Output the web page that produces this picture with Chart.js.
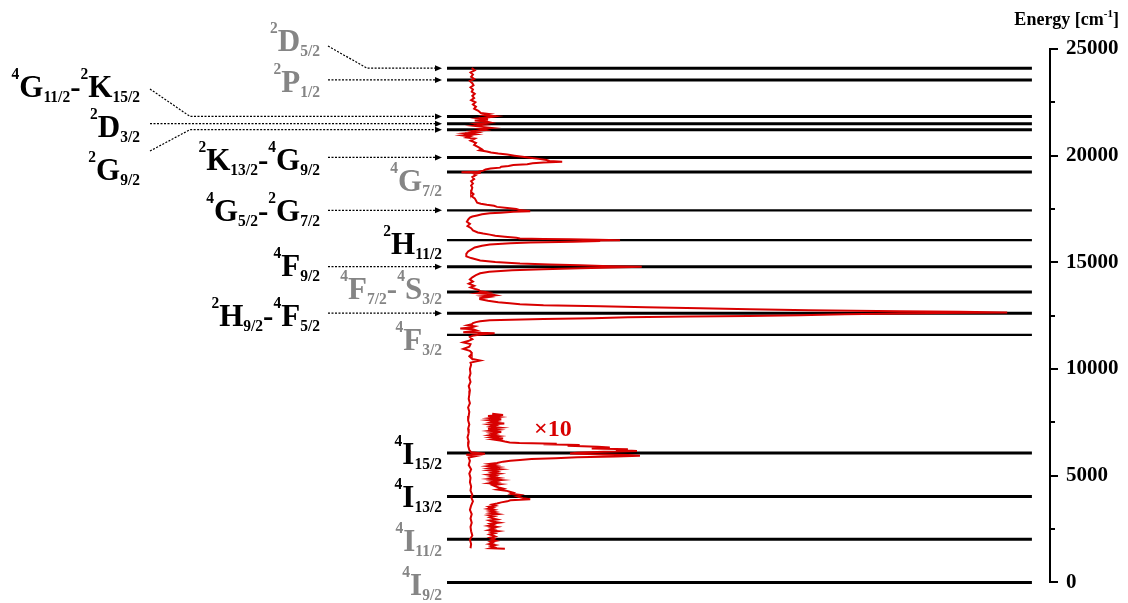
<!DOCTYPE html>
<html>
<head>
<meta charset="utf-8">
<script src="https://cdn.jsdelivr.net/npm/chart.js@4/dist/chart.umd.min.js"></script>
<style>
  html, body { margin: 0; padding: 0; background: #fff; }
  #wrap { width: 1128px; height: 603px; position: relative; }
</style>
</head>
<body>
<div id="wrap"><canvas id="levels"></canvas></div>
<script>
// energy levels (cm-1)
const levelE = [24100, 23550, 21840, 21500, 21220, 19920, 19240, 17440, 16040,
  14800, 13610, 12620, 11600, 6060, 4030, 2020, 0];
const levelThin = [false, false, false, false, false, false, false, true, true,
  false, false, false, true, false, false, false, false];
const levelEnd = 97; // intensity units, where the level lines stop

// excitation spectrum (energy, intensity in arb. units)
const specE = [24110,24000,23900,23800,23700,23600,23500,23400,23300,23200,
  23100,23000,22900,22800,22700,22600,22500,22400,22300,22200,
  22100,22000,21950,21900,21850,21800,21750,21700,21650,21600,
  21550,21500,21450,21400,21350,21300,21250,21200,21150,21100,
  21050,21000,20950,20900,20850,20800,20700,20600,20500,20400,
  20300,20250,20200,20150,20100,20050,20000,19950,19900,19850,
  19800,19750,19720,19680,19640,19600,19560,19520,19480,19440,
  19400,19350,19300,19250,19220,19200,19150,19100,19000,18900,
  18800,18700,18600,18500,18400,18300,18200,18100,18000,17900,
  17800,17750,17700,17650,17600,17550,17500,17450,17400,17370,
  17330,17300,17250,17200,17150,17100,17000,16900,16800,16700,
  16600,16500,16400,16350,16300,16250,16200,16150,16120,16100,
  16080,16060,16040,16020,16000,15970,15935,15900,15840,15780,
  15700,15600,15510,15400,15280,15200,15090,15020,14950,14900,
  14860,14820,14790,14770,14740,14720,14680,14630,14560,14490,
  14400,14300,14200,14100,14000,13900,13830,13750,13700,13650,
  13600,13550,13500,13460,13420,13380,13320,13270,13200,13130,
  13080,13040,12990,12940,12900,12850,12800,12760,12710,12680,
  12650,12630,12600,12570,12520,12490,12460,12430,12380,12340,
  12290,12240,12200,12150,12100,12050,12000,11950,11900,11870,
  11800,11730,11680,11620,11560,11500,11400,11310,11250,11170,
  11050,10940,10850,10800,10700,10600,10470,10400,10300,10200,
  10000,9800,9600,9400,9200,9000,8800,8600,8400,8200,
  8000,7800,7600,7400,7200,7000,6800,6600,6400,6200,
  6100,6030,5980,5930,5850,5700,5500,5300,5100,4900,
  4700,4500,4300,4100,4000,3800,3600,3400,3200,3000,
  2800,2600,2400,2200,2000,1800,1600];
const specI = [4.1,4.6,3.9,4.3,4.0,4.5,3.8,4.2,4.4,3.9,
  4.3,4.1,4.6,4.2,4.5,4.0,4.7,4.3,4.8,4.5,
  5.2,5.6,7.0,6.2,8.1,7.0,5.3,6.8,4.6,6.5,
  7.2,5.0,6.1,4.4,5.8,7.4,5.5,6.3,4.2,5.0,
  3.0,4.5,2.6,3.8,3.3,4.6,3.9,4.8,4.5,5.2,
  5.8,5.4,6.6,7.3,8.5,10.0,11.2,12.5,13.8,15.2,
  16.5,17.0,19.1,16.0,14.2,13.3,11.0,10.2,9.0,8.8,
  7.2,6.4,6.0,5.2,2.4,5.6,4.5,4.8,4.2,4.5,
  4.0,4.3,4.0,4.2,4.1,4.0,4.4,4.1,4.6,4.8,
  5.0,5.6,6.6,7.8,8.3,10.0,11.5,12.1,13.8,11.0,
  8.9,7.1,5.8,5.0,4.2,3.8,3.5,3.3,3.8,3.4,
  4.0,4.3,5.1,6.0,7.1,8.0,9.6,11.5,12.1,16.0,
  20.4,25.0,28.7,24.0,25.4,21.0,13.8,10.5,7.1,5.8,
  4.6,4.0,3.5,3.2,3.2,4.0,5.5,8.0,12.1,17.0,
  22.1,27.0,32.3,29.0,24.0,22.1,16.0,10.8,7.0,5.5,
  4.8,4.2,3.8,4.3,3.6,4.5,3.9,4.7,5.3,5.5,
  6.6,5.2,7.3,8.0,6.1,7.0,5.5,5.5,6.8,8.5,
  10.4,12.1,16.0,25.4,33.0,42.0,50.2,60.0,75.1,85.0,
  92.9,82.0,75.0,66.0,58.5,50.0,40.0,30.0,24.2,16.0,
  7.1,5.5,4.8,4.3,4.1,3.4,4.6,4.0,2.2,4.3,
  5.0,2.7,7.9,5.5,4.2,3.8,4.2,3.5,2.7,3.9,
  3.7,2.7,3.8,4.0,4.1,3.7,4.2,5.5,3.9,4.0,
  3.8,3.9,3.7,3.9,3.6,3.8,3.7,3.6,3.8,3.5,
  3.7,3.6,3.5,3.7,3.5,3.6,3.4,3.6,3.5,3.7,
  4.0,6.3,3.2,5.0,3.6,3.8,3.6,4.0,3.7,3.9,
  3.8,4.0,3.9,4.2,4.0,4.3,4.0,3.8,4.1,3.9,
  4.1,3.9,4.0,4.2,3.8,4.0,3.9];

// low-energy part magnified x10
const x10E = [7900,7850,7800,7750,7700,7650,7600,7550,7500,7450,
  7400,7350,7300,7250,7200,7150,7100,7050,7000,6950,
  6900,6850,6800,6750,6700,6650,6600,6560,6530,6500,
  6470,6440,6400,6360,6320,6280,6240,6200,6160,6120,
  6080,6040,6000,5970,5935,5900,5860,5820,5780,5740,
  5700,5660,5600,5550,5500,5450,5400,5350,5300,5250,
  5200,5150,5100,5050,5000,4950,4900,4850,4800,4750,
  4700,4650,4600,4550,4500,4450,4400,4350,4300,4250,
  4200,4150,4100,4050,4000,3950,3900,3850,3800,3750,
  3700,3650,3600,3550,3500,3450,3400,3350,3300,3250,
  3200,3150,3100,3050,3000,2950,2900,2850,2800,2750,
  2700,2650,2600,2550,2500,2450,2400,2350,2300,2250,
  2200,2150,2100,2050,2000,1950,1900,1850,1800,1750,
  1700,1650,1600,1580];
const x10I = [7.5,9.3,6.8,8.6,7.2,9.0,6.9,8.2,7.4,9.5,
  7.0,8.0,7.3,8.8,6.8,8.4,7.1,9.0,7.3,8.0,
  7.0,8.6,7.4,9.3,7.6,8.8,9.6,10.4,12.0,18.2,
  16.0,22.0,20.0,25.0,27.0,24.0,30.0,28.0,31.5,26.0,
  21.6,20.4,26.0,30.0,32.0,28.0,21.6,18.0,14.0,12.1,
  10.5,9.3,8.3,7.0,8.0,6.8,8.4,7.1,8.8,7.0,
  8.2,7.5,8.6,6.9,8.0,7.3,8.5,7.1,9.0,7.4,
  8.2,7.0,8.8,7.6,8.0,8.6,9.3,8.4,9.8,10.4,
  11.0,10.6,12.1,11.5,12.0,12.6,13.8,10.5,10.0,9.0,
  8.3,7.5,8.0,7.0,7.6,6.8,7.8,7.1,8.0,7.2,
  8.4,7.0,7.8,7.1,7.6,8.3,7.0,7.5,8.6,7.2,
  7.7,6.9,8.2,7.3,7.8,7.0,8.5,7.4,7.9,7.1,
  7.6,8.0,7.2,7.8,7.4,8.1,7.2,7.6,7.0,8.0,
  7.3,7.8,7.2,9.6];

const yTicks = [0, 5000, 10000, 15000, 20000, 25000];
const yMinorTicks = [2500, 7500, 12500, 17500, 22500];

// term symbols: ^ = superscript, _ = subscript
const termText = ['^2D_5/2', '^2P_1/2', '^4G_11/2-^2K_15/2', '^2D_3/2', '^2G_9/2',
  '^2K_13/2-^4G_9/2', '^4G_7/2', '^4G_5/2-^2G_7/2', '^2H_11/2', '^4F_9/2',
  '^4F_7/2-^4S_3/2', '^2H_9/2-^4F_5/2', '^4F_3/2', '^4I_15/2', '^4I_13/2',
  '^4I_11/2', '^4I_9/2'];
const termGray = [true, true, false, false, false, false, true, false, false, false,
  true, false, true, false, false, true, true];
// label layout (right edge px, baseline px)
const termPos = [[320, 51], [320, 92], [140, 97], [140, 137], [140, 180],
  [320, 170], [442, 191], [320, 221], [442, 254], [320, 276],
  [442, 299], [320, 326], [442, 350], [442, 464], [442, 507],
  [442, 551], [442, 595]];
// dotted arrows: [start x, start y (null = level), bend x (null = straight), level index]
const arrows = [[328, 46, 367, 0], [328, null, null, 1], [150, 89, 190, 2],
  [150, null, null, 3], [150, 151, 190, 4], [328, null, null, 5],
  [328, null, null, 7], [328, null, null, 9], [328, null, null, 11]];

const SERIF = "'Liberation Serif', 'Times New Roman', serif";
const GRAY = '#858585';
const RED = '#d80000';

function parseTerm(s) {
  const out = [];
  let i = 0;
  while (i < s.length) {
    const c = s[i];
    if (c === '^' || c === '_') {
      let j = i + 1;
      while (j < s.length && /[0-9\/]/.test(s[j])) j++;
      out.push({ kind: c === '^' ? 'sup' : 'sub', t: s.slice(i + 1, j) });
      i = j;
    } else {
      let j = i;
      while (j < s.length && s[j] !== '^' && s[j] !== '_') j++;
      out.push({ kind: 'main', t: s.slice(i, j) });
      i = j;
    }
  }
  return out;
}

function drawTerm(ctx, text, right, base, color) {
  const parts = parseTerm(text);
  const fonts = { main: 'bold 32px ' + SERIF, sup: 'bold 16px ' + SERIF, sub: 'bold 16px ' + SERIF };
  const dy = { main: 0, sup: -18, sub: 5 };
  const sx = 0.97;
  let total = 0;
  parts.forEach(p => { ctx.font = fonts[p.kind]; p.w = ctx.measureText(p.t).width * sx; total += p.w; });
  let x = right - total;
  ctx.fillStyle = color;
  ctx.textAlign = 'left';
  ctx.textBaseline = 'alphabetic';
  parts.forEach(p => {
    ctx.font = fonts[p.kind];
    ctx.save();
    ctx.translate(x, base + dy[p.kind]);
    ctx.scale(sx, 1);
    ctx.fillText(p.t, 0, 0);
    ctx.restore();
    x += p.w;
  });
}

const annotations = {
  id: 'annotations',
  afterDraw(chart) {
    const ctx = chart.ctx;
    const ys = chart.scales.y;
    ctx.save();

    // dotted arrows to the levels
    const tipX = 442;
    arrows.forEach(([x0, y0, bx, li]) => {
      const yl = ys.getPixelForValue(levelE[li]);
      ctx.strokeStyle = '#000';
      ctx.lineWidth = 1.2;
      ctx.setLineDash([2, 1.5]);
      ctx.beginPath();
      if (bx === null) {
        ctx.moveTo(x0, yl);
      } else {
        ctx.moveTo(x0, y0);
        ctx.lineTo(bx, yl);
      }
      ctx.lineTo(tipX - 6, yl);
      ctx.stroke();
      ctx.setLineDash([]);
      ctx.fillStyle = '#000';
      ctx.beginPath();
      ctx.moveTo(tipX, yl);
      ctx.lineTo(tipX - 7, yl - 3);
      ctx.lineTo(tipX - 7, yl + 3);
      ctx.closePath();
      ctx.fill();
    });

    // term labels
    termText.forEach((t, i) => drawTerm(ctx, t, termPos[i][0], termPos[i][1], termGray[i] ? GRAY : '#000'));

    // magnification mark
    ctx.fillStyle = RED;
    ctx.font = 'bold 24px ' + SERIF;
    ctx.textAlign = 'left';
    ctx.fillText('\u00d710', 534, 436);

    // minor ticks on the energy axis
    ctx.strokeStyle = '#000';
    ctx.lineWidth = 2;
    yMinorTicks.forEach(v => {
      const py = Math.round(ys.getPixelForValue(v));
      ctx.beginPath();
      ctx.moveTo(ys.left, py);
      ctx.lineTo(ys.left + 5, py);
      ctx.stroke();
    });

    // axis title
    ctx.fillStyle = '#000';
    const t1 = 'Energy [cm', t2 = '-1', t3 = ']';
    ctx.font = 'bold 18px ' + SERIF;
    const w1 = ctx.measureText(t1).width, w3 = ctx.measureText(t3).width;
    ctx.font = 'bold 11px ' + SERIF;
    const w2 = ctx.measureText(t2).width;
    let x = 1119 - (w1 + w2 + w3);
    ctx.font = 'bold 18px ' + SERIF;
    ctx.fillText(t1, x, 25);
    ctx.font = 'bold 11px ' + SERIF;
    ctx.fillText(t2, x + w1, 17);
    ctx.font = 'bold 18px ' + SERIF;
    ctx.fillText(t3, x + w1 + w2, 25);

    ctx.restore();
  }
};

const toPoints = (E, I) => E.map((e, i) => ({ x: I[i], y: e }));

const levelSets = levelE.map((e, i) => ({
  data: [{ x: 0, y: e }, { x: levelEnd, y: e }],
  showLine: true,
  borderColor: '#000',
  borderWidth: levelThin[i] ? 2.2 : 3,
  pointRadius: 0,
  clip: false,
  order: 2
}));

new Chart(document.getElementById('levels'), {
  type: 'scatter',
  data: {
    datasets: [
      ...levelSets,
      { data: toPoints(specE, specI), showLine: true, borderColor: RED, borderWidth: 2,
        pointRadius: 0, tension: 0, order: 1 },
      { data: toPoints(x10E, x10I), showLine: true, borderColor: RED, borderWidth: 2,
        pointRadius: 0, tension: 0, order: 1 }
    ]
  },
  options: {
    responsive: true,
    maintainAspectRatio: false,
    animation: false,
    layout: { padding: { left: 447, top: 49, bottom: 19, right: 0 } },
    plugins: { legend: { display: false }, tooltip: { enabled: false } },
    scales: {
      x: { type: 'linear', min: 0, max: 100, display: false },
      y: {
        type: 'linear',
        position: 'right',
        min: 0,
        max: 25000,
        afterFit(scale) { scale.width = 78; },
        afterBuildTicks(scale) { scale.ticks = yTicks.map(v => ({ value: v })); },
        border: { display: true, color: '#000', width: 2 },
        grid: { drawOnChartArea: false, color: '#000', lineWidth: 2, tickLength: 8 },
        ticks: {
          color: '#000',
          padding: 8,
          font: { family: SERIF, size: 21, weight: 'bold' },
          callback: v => String(v)
        }
      }
    }
  },
  plugins: [annotations]
});
</script>
</body>
</html>
